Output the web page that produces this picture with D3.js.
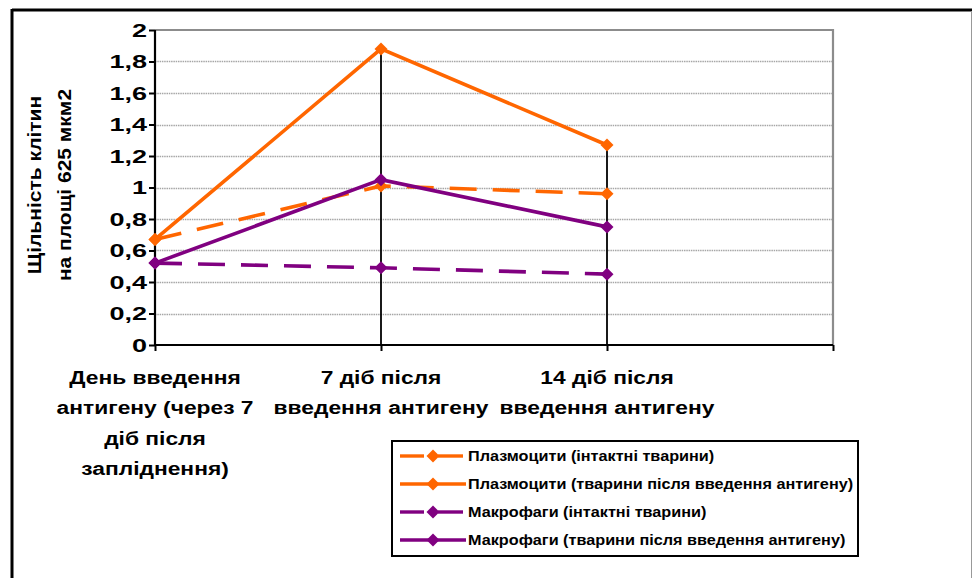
<!DOCTYPE html>
<html>
<head>
<meta charset="utf-8">
<script src="https://cdn.jsdelivr.net/npm/d3@7"></script>
<style>
  html, body { margin: 0; padding: 0; background: #fff; }
  svg { display: block; font-family: "Liberation Sans", Arial, sans-serif; font-weight: bold; }
</style>
</head>
<body>
<svg id="chart" width="972" height="578"></svg>
<script>
// Categories (time points); the axis reserves one more empty slot on the right
const categories = [
  ["День введення", "антигену (через 7", "діб після", "запліднення)"],
  ["7 діб після", "введення антигену"],
  ["14 діб після", "введення антигену"]
];
const slotCount = 3;

// Series values: cell density per 625 µm²
const plasmaIntact  = [0.67, 1.01, 0.96];
const plasmaAntigen = [0.67, 1.88, 1.27];
const macroIntact   = [0.52, 0.49, 0.45];
const macroAntigen  = [0.52, 1.05, 0.75];

const seriesNames = [
  "Плазмоцити (інтактні тварини)",
  "Плазмоцити (тварини після введення антигену)",
  "Макрофаги (інтактні тварини)",
  "Макрофаги (тварини після введення антигену)"
];

const yTicks = [0, 0.2, 0.4, 0.6, 0.8, 1, 1.2, 1.4, 1.6, 1.8, 2];
const yTitle = ["Щільність клітин", "на площі 625 мкм2"];

const ORANGE = "#FF6600", PURPLE = "#800080";
const series = [
  { name: seriesNames[0], values: plasmaIntact,  color: ORANGE, dashed: true },
  { name: seriesNames[1], values: plasmaAntigen, color: ORANGE, dashed: false },
  { name: seriesNames[2], values: macroIntact,   color: PURPLE, dashed: true },
  { name: seriesNames[3], values: macroAntigen,  color: PURPLE, dashed: false }
];

const svg = d3.select("#chart");
const plot = { left: 155, right: 833, top: 30, bottom: 345 };

const x = d3.scaleLinear().domain([0, slotCount]).range([plot.left, plot.right]);
const y = d3.scaleLinear().domain([0, 2]).range([plot.bottom, plot.top]);

// Outer chart frame
svg.append("line").attr("x1", 12).attr("x2", 972).attr("y1", 10).attr("y2", 10)
  .attr("stroke", "#000").attr("stroke-width", 3);
svg.append("line").attr("x1", 12).attr("x2", 12).attr("y1", 9).attr("y2", 578)
  .attr("stroke", "#000").attr("stroke-width", 3);
svg.append("line").attr("x1", 971.5).attr("x2", 971.5).attr("y1", 11).attr("y2", 578)
  .attr("stroke", "#999").attr("stroke-width", 1);

// Horizontal gridlines
svg.append("g").selectAll("line")
  .data(yTicks.filter(v => v > 0 && v < 2))
  .join("line")
  .attr("x1", plot.left).attr("x2", plot.right)
  .attr("y1", d => Math.round(y(d)) + 0.5).attr("y2", d => Math.round(y(d)) + 0.5)
  .attr("stroke", "#a6a6a6").attr("stroke-width", 1.3).attr("stroke-dasharray", "1.5,0.8");

// Plot area border (top and right)
svg.append("path")
  .attr("d", `M${plot.left},${y(2)}H${plot.right}V${plot.bottom}`)
  .attr("fill", "none").attr("stroke", "#8c8c8c").attr("stroke-width", 2.2);

// Drop lines from the highest point at each category down to the axis
const maxAt = d3.range(categories.length).map(i => d3.max(series, s => s.values[i]));
svg.append("g").selectAll("line")
  .data(maxAt.slice(1))
  .join("line")
  .attr("x1", (d, i) => x(i + 1)).attr("x2", (d, i) => x(i + 1))
  .attr("y1", d => y(d)).attr("y2", plot.bottom)
  .attr("stroke", "#000").attr("stroke-width", 1.8);

// Y axis
const yAxis = svg.append("g").attr("transform", `translate(${plot.left},0)`)
  .call(d3.axisLeft(y).tickValues(yTicks).tickSize(6).tickPadding(3)
    .tickFormat(d => String(d).replace(".", ",")));
yAxis.select(".domain").attr("stroke", "#000").attr("stroke-width", 2.2)
  .attr("d", `M0,${plot.top}V${plot.bottom}`);
yAxis.selectAll(".tick line").attr("stroke", "#000").attr("stroke-width", 2);
yAxis.selectAll(".tick text").attr("font-size", 18).attr("font-weight", "bold")
  .attr("font-family", "Liberation Sans, Arial, sans-serif").attr("fill", "#000")
  .attr("x", 0).attr("transform", "translate(-8,0) scale(1.5,1)")
  .attr("dy", "0.36em");

// X axis
const xAxis = svg.append("g").attr("transform", `translate(0,${plot.bottom})`)
  .call(d3.axisBottom(x).tickValues(d3.range(slotCount + 1)).tickSize(6).tickFormat(""));
xAxis.select(".domain").attr("stroke", "#000").attr("stroke-width", 2.2)
  .attr("d", `M${plot.left},0H${plot.right}`);
xAxis.selectAll(".tick line").attr("stroke", "#000").attr("stroke-width", 2);

// Category labels (multi-line)
const catG = svg.append("g");
categories.forEach((lines, i) => {
  const t = catG.append("text").attr("text-anchor", "middle")
    .attr("transform", `translate(${x(i)},0) scale(1.2,1)`)
    .attr("font-size", 19).attr("fill", "#000");
  lines.forEach((ln, j) => {
    t.append("tspan").attr("x", 0).attr("y", 384 + j * 30.3).text(ln);
  });
});

// Y axis title
const titleG = svg.append("g");
yTitle.forEach((ln, j) => {
  titleG.append("text")
    .attr("transform", `translate(${41 + j * 30},185) rotate(-90) scale(1.2,1)`)
    .attr("text-anchor", "middle").attr("font-size", 17.5).attr("fill", "#000")
    .text(ln);
});

// Series lines and markers
const line = d3.line().x((d, i) => x(i)).y(d => y(d));
const diamond = "M0,-6.5L6.5,0L0,6.5L-6.5,0Z";
series.forEach(s => {
  svg.append("path").datum(s.values)
    .attr("d", line).attr("fill", "none")
    .attr("stroke", s.color).attr("stroke-width", 3.6)
    .attr("stroke-dasharray", s.dashed ? "27,16" : null);
  svg.append("g").selectAll("path")
    .data(s.values).join("path")
    .attr("d", diamond)
    .attr("transform", (d, i) => `translate(${x(i)},${y(d)})`)
    .attr("fill", s.color);
});

// Legend
const lg = svg.append("g");
lg.append("rect").attr("x", 392).attr("y", 441).attr("width", 466).attr("height", 115)
  .attr("fill", "#fff").attr("stroke", "#000").attr("stroke-width", 2);
series.forEach((s, i) => {
  const cy = 456 + i * 28;
  if (s.dashed) {
    lg.append("line").attr("x1", 400).attr("x2", 424).attr("y1", cy).attr("y2", cy)
      .attr("stroke", s.color).attr("stroke-width", 3.4);
    lg.append("line").attr("x1", 438).attr("x2", 463).attr("y1", cy).attr("y2", cy)
      .attr("stroke", s.color).attr("stroke-width", 3.4);
  } else {
    lg.append("line").attr("x1", 400).attr("x2", 466).attr("y1", cy).attr("y2", cy)
      .attr("stroke", s.color).attr("stroke-width", 3.4);
  }
  lg.append("path").attr("d", diamond).attr("transform", `translate(433,${cy})`)
    .attr("fill", s.color);
  lg.append("text").attr("transform", `translate(468,${cy}) scale(1.12,1)`)
    .attr("dy", "0.36em")
    .attr("font-size", 14.5).attr("fill", "#000").text(s.name);
});
</script>
</body>
</html>
